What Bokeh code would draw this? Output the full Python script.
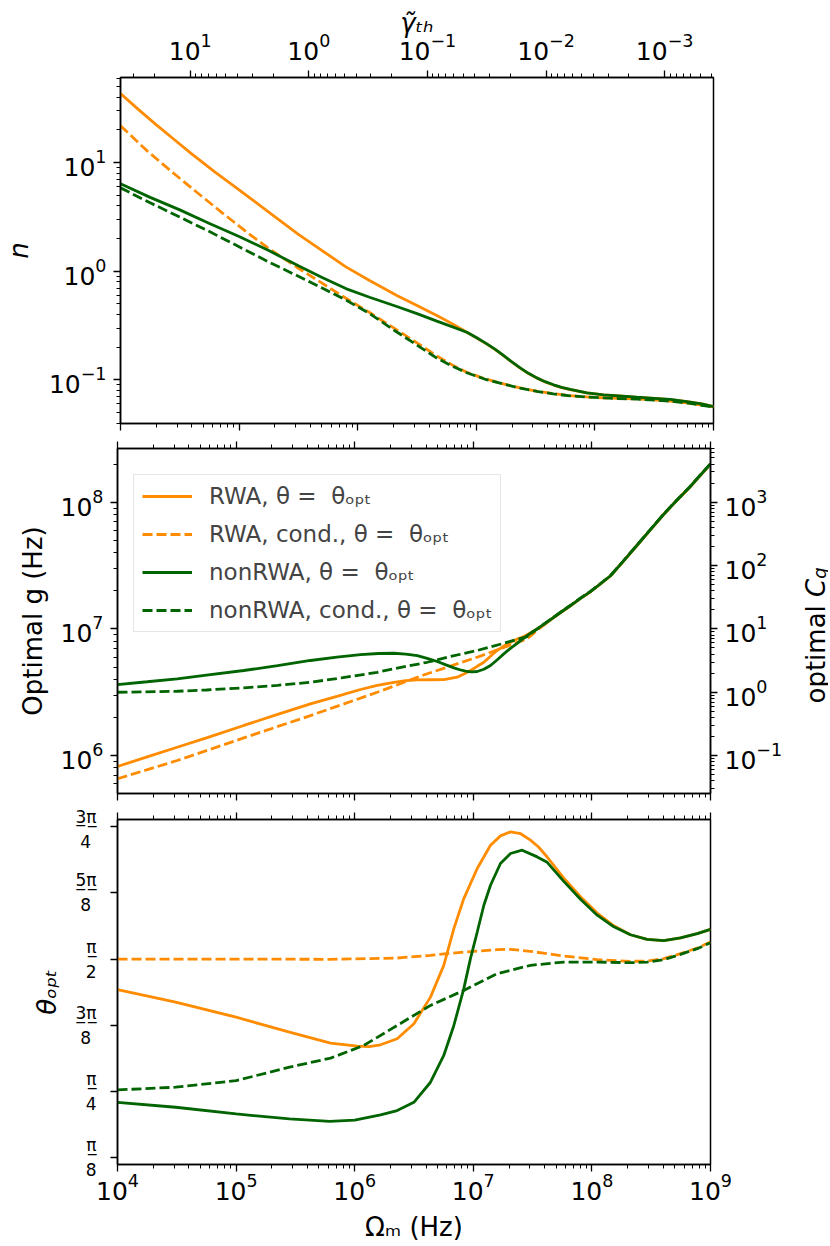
import numpy as np
from bokeh.plotting import figure
from bokeh.models import (Range1d, LogAxis, LogScale, LogTicker, FixedTicker,
                          Legend, LegendItem)
from bokeh.core.properties import value
from bokeh.layouts import column, row
from bokeh.embed import file_html
from bokeh.resources import INLINE

# ---------------- data (x values are log10 of Omega_m / Hz) ----------------
# Panel 1: photon number n (log10 n)
n_rwa_x = [4.0, 4.15, 4.3, 4.45, 4.6, 4.8, 5.0, 5.25, 5.5, 5.7, 5.9, 6.1, 6.33, 6.5, 6.667, 6.8, 6.92,
           7.0, 7.089, 7.16, 7.229, 7.3, 7.37, 7.44, 7.51, 7.58, 7.651, 7.72, 7.792, 7.932, 8.073, 8.2, 8.354, 8.5, 8.635, 8.775, 8.9, 9.0]
n_rwa_y = [1.636, 1.49, 1.35, 1.215, 1.08, 0.91, 0.75, 0.545, 0.34, 0.19, 0.04, -0.085, -0.224, -0.315, -0.408, -0.485, -0.562,
           -0.612, -0.671, -0.722, -0.778, -0.837, -0.892, -0.942, -0.984, -1.019, -1.048, -1.072, -1.091, -1.121, -1.139, -1.149, -1.161, -1.171, -1.182, -1.201, -1.222, -1.246]
n_rwac_x = [4.0, 4.222, 4.45, 4.643, 4.85, 5.065, 5.25, 5.487, 5.7, 5.908, 6.1, 6.33, 6.5, 6.667, 6.8, 6.92, 7.07,
            7.229, 7.37, 7.51, 7.65, 7.792, 7.93, 8.073, 8.2, 8.354, 8.5, 8.635, 8.8, 9.0]
n_rwac_y = [1.34, 1.111, 0.90, 0.727, 0.545, 0.359, 0.21, 0.037, -0.11, -0.254, -0.38, -0.54, -0.66, -0.78, -0.865, -0.93, -0.99,
            -1.037, -1.075, -1.105, -1.128, -1.145, -1.157, -1.166, -1.171, -1.176, -1.185, -1.196, -1.215, -1.25]
n_non_x = [4.0, 4.25, 4.5, 4.75, 5.0, 5.25, 5.5, 5.7, 5.9, 6.1, 6.33, 6.5, 6.667, 6.8, 6.92,
           7.0, 7.089, 7.16, 7.229, 7.3, 7.37, 7.44, 7.51, 7.58, 7.651, 7.72, 7.792, 7.932, 8.073, 8.2, 8.354, 8.5, 8.635, 8.775, 8.9, 9.0]
n_non_y = [0.805, 0.68, 0.565, 0.44, 0.32, 0.19, 0.05, -0.057, -0.16, -0.24, -0.325, -0.39, -0.46, -0.513, -0.562,
           -0.61, -0.669, -0.72, -0.776, -0.835, -0.89, -0.94, -0.982, -1.017, -1.046, -1.07, -1.089, -1.12, -1.138, -1.148, -1.16, -1.17, -1.181, -1.2, -1.221, -1.246]
n_nonc_x = [4.0, 4.25, 4.503, 4.75, 5.0, 5.25, 5.487, 5.7, 5.908, 6.1, 6.33, 6.5, 6.667, 6.8, 6.92, 7.07,
            7.229, 7.37, 7.51, 7.65, 7.792, 7.93, 8.073, 8.2, 8.354, 8.5, 8.635, 8.8, 9.0]
n_nonc_y = [0.768, 0.63, 0.497, 0.365, 0.225, 0.085, -0.04, -0.155, -0.27, -0.39, -0.56, -0.68, -0.80, -0.875, -0.935, -0.993,
            -1.039, -1.077, -1.107, -1.13, -1.147, -1.158, -1.167, -1.172, -1.177, -1.186, -1.197, -1.216, -1.252]

# Panel 2: optimal g (log10 g / Hz)
g_rwa_x = [4.0, 4.25, 4.503, 4.75, 5.065, 5.35, 5.627, 5.85, 6.049, 6.19, 6.33, 6.43, 6.527, 6.64, 6.752, 6.864, 6.92,
           6.977, 7.033, 7.089, 7.145, 7.2, 7.257, 7.313, 7.37, 7.426, 7.51, 7.6, 7.651, 7.735, 7.82, 7.9, 7.988,
           8.07, 8.157, 8.26, 8.375, 8.49, 8.6, 8.71, 8.82, 8.91, 9.0]
g_rwa_y = [5.914, 5.99, 6.066, 6.14, 6.238, 6.325, 6.409, 6.468, 6.522, 6.555, 6.579, 6.592, 6.598, 6.599, 6.6, 6.619, 6.645,
           6.672, 6.705, 6.737, 6.785, 6.83, 6.865, 6.895, 6.92, 6.94, 6.985, 7.035, 7.072, 7.128, 7.183, 7.238, 7.293,
           7.353, 7.418, 7.528, 7.653, 7.778, 7.898, 8.008, 8.113, 8.208, 8.3]
g_rwac_x = [4.0, 4.503, 5.065, 5.627, 6.19, 6.611, 7.033, 7.454, 7.539, 7.651, 7.735, 7.82, 7.9, 7.988,
            8.07, 8.157, 8.26, 8.375, 8.49, 8.6, 8.71, 8.82, 8.91, 9.0]
g_rwac_y = [5.817, 5.961, 6.14, 6.316, 6.50, 6.646, 6.777, 6.922, 6.99, 7.074, 7.13, 7.185, 7.24, 7.295,
            7.355, 7.42, 7.53, 7.655, 7.78, 7.9, 8.01, 8.115, 8.21, 8.303]
g_non_x = [4.0, 4.25, 4.503, 4.75, 5.065, 5.35, 5.627, 5.85, 6.049, 6.2, 6.33, 6.43, 6.527, 6.611, 6.696, 6.77, 6.836,
           6.9, 6.949, 6.99, 7.033, 7.089, 7.145, 7.2, 7.257, 7.313, 7.37, 7.44, 7.51, 7.539, 7.651, 7.735, 7.82, 7.9, 7.988,
           8.07, 8.157, 8.26, 8.375, 8.49, 8.6, 8.71, 8.82, 8.91, 9.0]
g_non_y = [6.561, 6.583, 6.606, 6.636, 6.672, 6.71, 6.751, 6.778, 6.798, 6.806, 6.808, 6.802, 6.79, 6.768, 6.743, 6.716, 6.693,
           6.674, 6.664, 6.661, 6.664, 6.682, 6.711, 6.755, 6.803, 6.847, 6.887, 6.937, 6.985, 7.0, 7.074, 7.13, 7.185, 7.24, 7.295,
           7.355, 7.42, 7.53, 7.655, 7.78, 7.9, 8.01, 8.115, 8.21, 8.303]
g_nonc_x = [4.0, 4.503, 4.75, 5.065, 5.35, 5.627, 5.9, 6.19, 6.4, 6.611, 6.82, 7.033, 7.25, 7.454, 7.539, 7.651, 7.735, 7.82,
            7.9, 7.988, 8.07, 8.157, 8.26, 8.375, 8.49, 8.6, 8.71, 8.82, 8.91, 9.0]
g_nonc_y = [6.50, 6.508, 6.518, 6.535, 6.555, 6.579, 6.615, 6.658, 6.698, 6.737, 6.785, 6.83, 6.885, 6.94, 7.0, 7.076, 7.132, 7.187,
            7.242, 7.297, 7.357, 7.422, 7.532, 7.657, 7.782, 7.902, 8.012, 8.117, 8.212, 8.305]

# Panel 3: optimal theta (in units of pi)
t_rwa_x = [4.0, 4.49, 5.0, 5.45, 5.796, 6.021, 6.12, 6.218, 6.358, 6.499, 6.639, 6.751, 6.836, 6.92, 7.033, 7.145, 7.229,
           7.314, 7.4, 7.482, 7.55, 7.623, 7.763, 7.904, 8.045, 8.185, 8.325, 8.466, 8.606, 8.747, 8.888, 9.0]
t_rwa_y = [0.442, 0.4186, 0.390, 0.3617, 0.341, 0.3352, 0.3345, 0.3378, 0.3493, 0.3776, 0.428, 0.488, 0.5576, 0.6144, 0.6712, 0.7153, 0.733,
           0.7405, 0.737, 0.7248, 0.712, 0.693, 0.653, 0.618, 0.587, 0.563, 0.546, 0.5374, 0.535, 0.540, 0.548, 0.5562]
t_rwac_x = [4.0, 5.0, 5.796, 6.358, 6.639, 6.92, 7.2, 7.314, 7.482, 7.763, 8.045, 8.325, 8.466, 8.606, 8.747, 8.888, 9.0]
t_rwac_y = [0.5, 0.5, 0.4995, 0.5019, 0.507, 0.5133, 0.5178, 0.5184, 0.5146, 0.5057, 0.4989, 0.4957, 0.4963, 0.5008, 0.5102, 0.5209, 0.5322]
t_non_x = [4.0, 4.49, 5.0, 5.45, 5.79, 6.0, 6.218, 6.358, 6.499, 6.639, 6.751, 6.836, 6.92, 6.976, 7.033, 7.089, 7.145,
           7.229, 7.314, 7.412, 7.539, 7.623, 7.763, 7.904, 8.045, 8.185, 8.325, 8.466, 8.606, 8.747, 8.888, 9.0]
t_non_y = [0.229, 0.2197, 0.207, 0.1976, 0.193, 0.1955, 0.2053, 0.2134, 0.229, 0.267, 0.3176, 0.3744, 0.444, 0.5008, 0.5511, 0.6017, 0.6396,
           0.6807, 0.6996, 0.7059, 0.6932, 0.683, 0.647, 0.613, 0.583, 0.561, 0.546, 0.5374, 0.535, 0.540, 0.548, 0.5562]
t_nonc_x = [4.0, 4.49, 5.0, 5.45, 5.796, 6.077, 6.358, 6.639, 6.92, 7.2, 7.482, 7.763, 8.045, 8.325, 8.466, 8.606, 8.747, 8.888, 9.0]
t_nonc_y = [0.2525, 0.2576, 0.27, 0.2955, 0.3125, 0.3366, 0.3744, 0.4123, 0.4407, 0.4723, 0.4881, 0.4943, 0.4943, 0.4931, 0.4943, 0.4989, 0.5089, 0.5196, 0.531]

legend_labels = ["RWA, θ =  θₒₚₜ", "RWA, cond., θ =  θₒₚₜ",
                 "nonRWA, θ =  θₒₚₜ", "nonRWA, cond., θ =  θₒₚₜ"]
theta_tick_k = [1, 2, 3, 4, 5, 6]            # multiples of pi/8
theta_tick_num = ["π", "π", "3π", "π", "5π", "3π"]
theta_tick_den = ["8", "4", "8", "2", "8", "4"]

FONT = "DejaVu Sans"
ORANGE = "#ff8c00"
GREEN = "#006400"
LW = 2.8
DASH = "10 4"
LEFT, RIGHT, STRIP = 117, 75, 43


def style_axis(ax, labels=True):
    ax.axis_line_color = "black"
    ax.axis_line_width = 1.5
    ax.major_tick_in = 0
    ax.major_tick_out = 7
    ax.minor_tick_in = 0
    ax.minor_tick_out = 4
    ax.major_tick_line_color = "black"
    ax.minor_tick_line_color = "black"
    ax.major_tick_line_width = 1.3
    ax.minor_tick_line_width = 1.0
    ax.major_label_text_font = FONT
    ax.major_label_text_color = "black"
    ax.axis_label_text_font = FONT
    ax.axis_label_text_font_size = "26px"
    ax.axis_label_text_color = "black"
    ax.axis_label_text_font_style = "normal"
    if labels:
        ax.major_label_text_font_size = "25px"
        ax.major_label_standoff = 7
    else:
        ax.major_label_text_font_size = "1px"
        ax.major_label_text_alpha = 0
        ax.major_label_standoff = 0


def make_fig(y_type, y_range, fh, top, bottom):
    p = figure(x_axis_type="log", y_axis_type=y_type,
               x_range=Range1d(1e4, 1e9), y_range=y_range,
               frame_width=593, frame_height=fh,
               min_border_left=LEFT, min_border_right=RIGHT,
               min_border_top=top, min_border_bottom=bottom,
               output_backend="svg", toolbar_location=None)
    p.grid.visible = False
    p.outline_line_color = "black"
    p.outline_line_width = 1.5
    p.background_fill_color = "white"
    p.border_fill_color = "white"
    for ax in p.xaxis:
        ax.ticker = LogTicker(num_minor_ticks=10)
    return p


def strip(h):
    s = figure(frame_width=STRIP, frame_height=h, min_border=0,
               x_range=Range1d(0, STRIP), y_range=Range1d(h, 0),
               x_axis_type=None, y_axis_type=None,
               output_backend="svg", toolbar_location=None)
    s.grid.visible = False
    s.outline_line_color = None
    s.background_fill_color = "white"
    s.border_fill_color = "white"
    return s


def add_top_ticks(p):
    ax = LogAxis(ticker=LogTicker(num_minor_ticks=10))
    style_axis(ax, labels=False)
    p.add_layout(ax, "above")


def lx(a):
    return 10 ** np.array(a)


# ---------------- panel 1 ----------------
P1_TOP, P1_H, P1_BOT = 77, 346, 12
p1 = make_fig("log", Range1d(0.0396, 60.8), P1_H, P1_TOP, P1_BOT)
p1.line(lx(n_rwa_x), lx(n_rwa_y), line_color=ORANGE, line_width=LW)
p1.line(lx(n_rwac_x), lx(n_rwac_y), line_color=ORANGE, line_width=LW, line_dash=DASH)
p1.line(lx(n_non_x), lx(n_non_y), line_color=GREEN, line_width=LW)
p1.line(lx(n_nonc_x), lx(n_nonc_y), line_color=GREEN, line_width=LW, line_dash=DASH)
style_axis(p1.xaxis[0], labels=False)
p1.yaxis[0].ticker = LogTicker(num_minor_ticks=10)
style_axis(p1.yaxis[0])
p1.yaxis[0].axis_label = "n"
p1.yaxis[0].axis_label_text_font_style = "italic"
p1.yaxis[0].axis_label_standoff = 12
p1.extra_x_ranges = {"gam": Range1d(10 ** 1.588, 10 ** -3.412)}
p1.extra_x_scales = {"gam": LogScale()}
gax = LogAxis(x_range_name="gam", ticker=LogTicker(num_minor_ticks=10),
              axis_label="γ̃ₜₕ")
style_axis(gax)
gax.major_label_standoff = 11
gax.axis_label_text_font_style = "italic"
gax.axis_label_standoff = -8
p1.add_layout(gax, "above")

# ---------------- panel 2 ----------------
P2_TOP, P2_H, P2_BOT = 13, 345, 13
p2 = make_fig("log", Range1d(5.02e5, 2.66e8), P2_H, P2_TOP, P2_BOT)
r1 = p2.line(lx(g_rwa_x), lx(g_rwa_y), line_color=ORANGE, line_width=LW)
r2 = p2.line(lx(g_rwac_x), lx(g_rwac_y), line_color=ORANGE, line_width=LW, line_dash=DASH)
r3 = p2.line(lx(g_non_x), lx(g_non_y), line_color=GREEN, line_width=LW)
r4 = p2.line(lx(g_nonc_x), lx(g_nonc_y), line_color=GREEN, line_width=LW, line_dash=DASH)
style_axis(p2.xaxis[0], labels=False)
p2.yaxis[0].ticker = LogTicker(num_minor_ticks=10)
style_axis(p2.yaxis[0])
p2.yaxis[0].axis_label = "Optimal g (Hz)"
p2.yaxis[0].axis_label_standoff = 10
add_top_ticks(p2)
p2.extra_y_ranges = {"cq": Range1d(0.0252, 7047)}
p2.extra_y_scales = {"cq": LogScale()}
cax = LogAxis(y_range_name="cq", ticker=LogTicker(num_minor_ticks=10))
style_axis(cax)
p2.add_layout(cax, "right")
legend = Legend(items=[LegendItem(label=legend_labels[i], renderers=[r])
                       for i, r in enumerate([r1, r2, r3, r4])],
                location=(16, 161), label_text_font=FONT, label_text_font_size="23px",
                glyph_width=50, glyph_height=24, label_height=24, spacing=12,
                padding=8, label_standoff=17, margin=0,
                border_line_color="#cccccc", border_line_width=1.2,
                background_fill_alpha=0.8)
p2.add_layout(legend)

# right-hand label "optimal C_q" in a narrow strip (pixel coordinates from the top)
s2 = strip(P2_TOP + P2_H + P2_BOT)
lab_y0 = 255
s2.text(x=[30], y=[lab_y0], text=["optimal "], angle=np.pi / 2,
        text_align="left", text_baseline="alphabetic",
        text_font=value(FONT), text_font_size=value("26px"), text_color="black")
s2.text(x=[30], y=[lab_y0 - 106.6], text=["C"], angle=np.pi / 2,
        text_align="left", text_baseline="alphabetic", text_font_style="italic",
        text_font=value(FONT), text_font_size=value("26px"), text_color="black")
s2.text(x=[34], y=[lab_y0 - 124.7], text=["q"], angle=np.pi / 2,
        text_align="left", text_baseline="alphabetic", text_font_style="italic",
        text_font=value(FONT), text_font_size=value("18px"), text_color="black")

# ---------------- panel 3 ----------------
P3_TOP, P3_H, P3_BOT = 13, 345, 76
p3 = make_fig("linear", Range1d(0.35, 2.4), P3_H, P3_TOP, P3_BOT)
p3.line(lx(t_rwa_x), np.pi * np.array(t_rwa_y), line_color=ORANGE, line_width=LW)
p3.line(lx(t_rwac_x), np.pi * np.array(t_rwac_y), line_color=ORANGE, line_width=LW, line_dash=DASH)
p3.line(lx(t_non_x), np.pi * np.array(t_non_y), line_color=GREEN, line_width=LW)
p3.line(lx(t_nonc_x), np.pi * np.array(t_nonc_y), line_color=GREEN, line_width=LW, line_dash=DASH)
style_axis(p3.xaxis[0])
p3.xaxis[0].major_label_standoff = 1
p3.xaxis[0].axis_label = "Ωₘ (Hz)"
p3.xaxis[0].axis_label_standoff = 9
add_top_ticks(p3)
tick_vals = [k * np.pi / 8 for k in theta_tick_k]
yax3 = p3.yaxis[0]
yax3.ticker = FixedTicker(ticks=tick_vals, minor_ticks=[])
style_axis(yax3)
yax3.major_label_text_font_size = "17px"
yax3.major_label_text_line_height = 1.25
yax3.major_label_standoff = 14
# stacked fractions: numerator underlined (fraction bar), denominator centred
overrides = {}
for v, num, den in zip(tick_vals, theta_tick_num, theta_tick_den):
    top = "".join(ch + "\u0332" for ch in num)
    bot = den + ("\u2008" if len(num) > 1 else "")
    overrides[v] = top + "\n" + bot
yax3.major_label_overrides = overrides
yax3.axis_label = "θₒₚₜ"
yax3.axis_label_text_font_style = "italic"
yax3.axis_label_standoff = 10
s3 = strip(P3_TOP + P3_H + P3_BOT)
s1 = strip(P1_TOP + P1_H + P1_BOT)

layout = column(row(p1, s1, spacing=0), row(p2, s2, spacing=0),
                row(p3, s3, spacing=0), spacing=0)
open("out.html", "w").write(file_html(layout, INLINE))
